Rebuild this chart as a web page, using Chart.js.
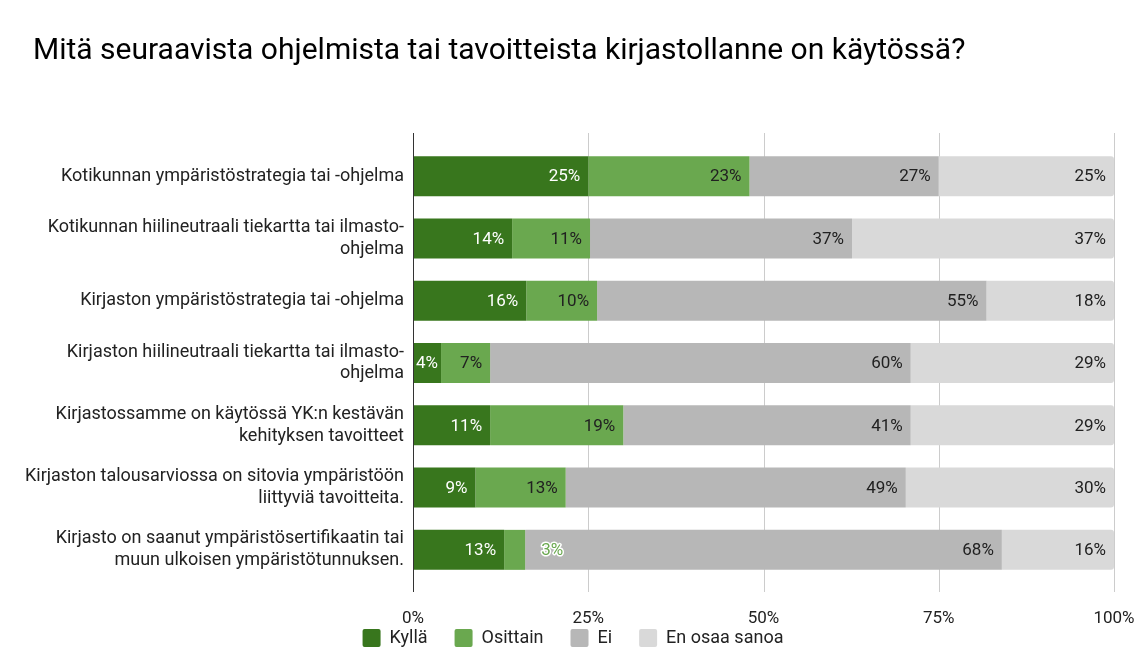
<!DOCTYPE html>
<html>
<head>
<meta charset="utf-8">
<script src="https://cdn.jsdelivr.net/npm/chart.js@4.4.1/dist/chart.umd.min.js"></script>
<style>
  html, body { margin: 0; padding: 0; background: #fff; overflow: hidden; }
  #wrap { width: 1145px; height: 657px; }
</style>
</head>
<body>
<div id="wrap"><canvas id="envChart"></canvas></div>
<script>
var chartTitle = "Mitä seuraavista ohjelmista tai tavoitteista kirjastollanne on käytössä?";
// categories as they are printed on the axis (line breaks included)
var categories = [
  "Kotikunnan ympäristöstrategia tai -ohjelma",
  ["Kotikunnan hiilineutraali tiekartta tai ilmasto-", "ohjelma"],
  "Kirjaston ympäristöstrategia tai -ohjelma",
  ["Kirjaston hiilineutraali tiekartta tai ilmasto-", "ohjelma"],
  ["Kirjastossamme on käytössä YK:n kestävän", "kehityksen tavoitteet"],
  ["Kirjaston talousarviossa on sitovia ympäristöön", "liittyviä tavoitteita."],
  ["Kirjasto on saanut ympäristösertifikaatin tai", "muun ulkoisen ympäristötunnuksen."]
];
var seriesNames = ["Kyllä", "Osittain", "Ei", "En osaa sanoa"];
var kylla    = [25, 14, 16, 4, 11, 9, 13];
var osittain = [23, 11, 10, 7, 19, 13, 3];
var ei       = [27, 37, 55, 60, 41, 49, 68];
var enOsaa   = [25, 37, 18, 29, 29, 30, 16];
var xTicks = [0, 25, 50, 75, 100];

var barColors = ["#38761d", "#6aa84f", "#b7b7b7", "#d9d9d9"];
var rawSeries = [kylla, osittain, ei, enOsaa];

// 100% stacked: each row is scaled to its own total
function shares(arr) {
  return arr.map(function (v, i) {
    var tot = kylla[i] + osittain[i] + ei[i] + enOsaa[i];
    return v / tot * 100;
  });
}

Chart.defaults.font.family = "Roboto";
Chart.defaults.color = "#222";

// title drawn by hand so it can sit left of the y axis labels
var titleText = {
  id: "titleText",
  afterDraw: function (chart) {
    var ctx = chart.ctx;
    ctx.save();
    ctx.font = "30px Roboto";
    ctx.fillStyle = "#000";
    ctx.textAlign = "left";
    ctx.textBaseline = "middle";
    ctx.fillText(chartTitle, 33, 51);
    ctx.restore();
  }
};

// grid lines reach a bit above and below the bars, like the original
var gridLines = {
  id: "gridLines",
  beforeDatasetsDraw: function (chart) {
    var ctx = chart.ctx, a = chart.chartArea, xs = chart.scales.x;
    ctx.save();
    ctx.lineWidth = 1;
    ctx.strokeStyle = "#cccccc";
    xTicks.forEach(function (t) {
      if (t === 0) return;
      var px = Math.round(xs.getPixelForValue(t)) + 0.5;
      ctx.beginPath();
      ctx.moveTo(px, a.top - 12);
      ctx.lineTo(px, a.bottom + 11);
      ctx.stroke();
    });
    ctx.restore();
  },
  afterDatasetsDraw: function (chart) {
    var ctx = chart.ctx, a = chart.chartArea, xs = chart.scales.x;
    var px = Math.round(xs.getPixelForValue(0)) + 0.5;
    ctx.save();
    ctx.strokeStyle = "#333333";
    ctx.lineWidth = 1;
    ctx.beginPath();
    ctx.moveTo(px, a.top - 12);
    ctx.lineTo(px, a.bottom + 11);
    ctx.stroke();
    ctx.restore();
  }
};

// legend: fixed height in the layout, then placed tight under the tick labels
var legendNudge = {
  id: "legendNudge",
  beforeLayout: function (chart) {
    var lg = chart.legend;
    if (lg && !lg._fixedFit) {
      var fit = lg.fit;
      lg.fit = function () { fit.call(this); this.height = 34; };
      lg._fixedFit = true;
    }
  },
  afterLayout: function (chart) {
    var lg = chart.legend;
    lg.top = 602;
    lg.bottom = 657;
    lg.left = 0;
    lg.right = 1146;
    lg.width = 1146;
  }
};

var barLabels = {
  id: "barLabels",
  afterDatasetsDraw: function (chart) {
    var ctx = chart.ctx;
    ctx.save();
    ctx.font = "17px Roboto";
    ctx.textBaseline = "middle";
    chart.data.datasets.forEach(function (ds, di) {
      var meta = chart.getDatasetMeta(di);
      meta.data.forEach(function (bar, i) {
        var txt = rawSeries[di][i] + "%";
        var w = ctx.measureText(txt).width;
        var len = bar.x - bar.base;
        var y = bar.y + 1;
        if (w + 16 <= len) {
          ctx.textAlign = "right";
          ctx.fillStyle = di === 0 ? "#ffffff" : "#212121";
          ctx.fillText(txt, bar.x - 8, y);
        } else if (w + 4 <= len) {
          ctx.textAlign = "center";
          ctx.fillStyle = di === 0 ? "#ffffff" : "#212121";
          ctx.fillText(txt, (bar.x + bar.base) / 2, y);
        } else {
          ctx.textAlign = "left";
          ctx.lineJoin = "round";
          ctx.lineWidth = 3;
          ctx.strokeStyle = "#ffffff";
          ctx.strokeText(txt, bar.x + 16, y);
          ctx.fillStyle = barColors[di];
          ctx.fillText(txt, bar.x + 16, y);
        }
      });
    });
    ctx.restore();
  }
};

new Chart("envChart", {
  type: "bar",
  data: {
    labels: categories,
    datasets: rawSeries.map(function (s, i) {
      return {
        label: seriesNames[i],
        data: shares(s),
        backgroundColor: barColors[i],
        borderWidth: 0,
        borderRadius: i === 3 ? 3 : 0,
        barPercentage: 0.642,
        categoryPercentage: 1
      };
    })
  },
  options: {
    indexAxis: "y",
    responsive: true,
    maintainAspectRatio: false,
    animation: false,
    layout: { padding: { left: 0, right: 31, top: 145, bottom: 0 } },
    scales: {
      x: {
        stacked: true,
        min: 0,
        max: 100,
        afterFit: function (s) {
          s.height = 42;
          s.paddingLeft = 0;
          s.paddingRight = 0;
        },
        grid: { display: false },
        border: { display: false },
        ticks: {
          stepSize: 25,
          padding: 20,
          font: { size: 17 },
          color: "#222",
          maxRotation: 0,
          callback: function (v) { return v + "%"; }
        }
      },
      y: {
        stacked: true,
        afterFit: function (s) { s.width = 413; },
        grid: { display: false, drawTicks: false },
        border: { display: false },
        ticks: {
          padding: 9,
          font: { size: 18, lineHeight: 1.22 },
          color: "#222"
        }
      }
    },
    plugins: {
      title: { display: false },
      legend: {
        position: "bottom",
        labels: {
          boxWidth: 18,
          boxHeight: 18,
          padding: 27,
          useBorderRadius: true,
          borderRadius: 2,
          color: "#222",
          font: { size: 18 }
        }
      },
      tooltip: { enabled: false }
    }
  },
  plugins: [titleText, gridLines, legendNudge, barLabels]
});
</script>
</body>
</html>
